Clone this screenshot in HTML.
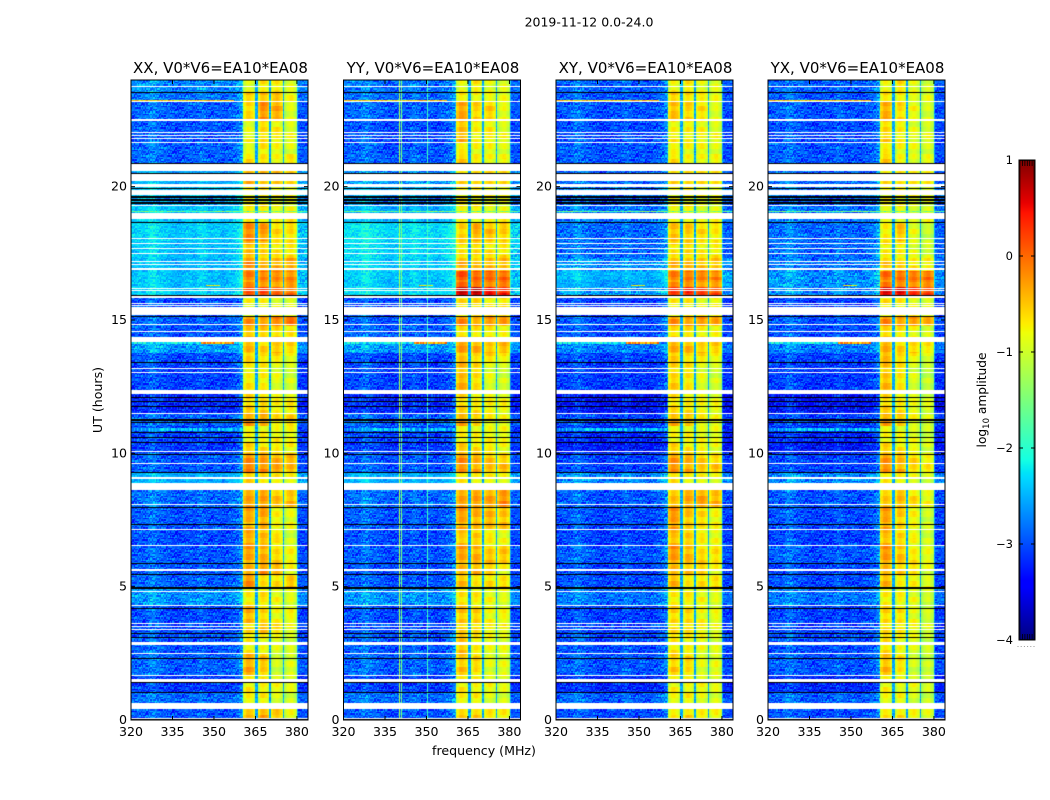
<!DOCTYPE html>
<html lang="en">
<head>
<meta charset="utf-8">
<title>2019-11-12 dynamic spectra</title>
<style>
html,body{margin:0;padding:0;background:#fff;}
#figure{position:relative;width:1050px;height:800px;overflow:hidden;background:#fff;font-family:"DejaVu Sans","Liberation Sans",sans-serif;}
canvas{position:absolute;display:block;}
svg{position:absolute;left:0;top:0;}
text{font-family:"DejaVu Sans","Liberation Sans",sans-serif;fill:#000;}
</style>
</head>
<body>
<div id="figure">
<svg id="overlay" width="1050" height="800" viewBox="0 0 1050 800">
<text x="589" y="26.5" font-size="12.5" text-anchor="middle">2019-11-12 0.0-24.0</text>
<text x="484" y="755" font-size="12.6" text-anchor="middle">frequency (MHz)</text>
<text transform="translate(102,400) rotate(-90)" font-size="12.6" text-anchor="middle">UT (hours)</text>
<text transform="translate(986,400) rotate(-90)" font-size="12.2" text-anchor="middle">log<tspan font-size="8.5" dy="3">10</tspan><tspan dy="-3"> amplitude</tspan></text>
</svg>
</div>
<script>
// ---------- axis categories and ticks ----------
var panelTitles = ["XX, V0*V6=EA10*EA08","YY, V0*V6=EA10*EA08","XY, V0*V6=EA10*EA08","YX, V0*V6=EA10*EA08"];
var freqTicks = [320,335,350,365,380];
var utTicks = [0,5,10,15,20];
var cbTicks = [-4,-3,-2,-1,0,1];
var cbTickLabels = ["\u22124","\u22123","\u22122","\u22121","0","1"];
// sub-band limits in MHz
var subbandStart = [360.4,365.9,370.6,375.7];
var subbandEnd = [364.9,369.8,374.9,380.0];
var gapLevel = -2.55;
var lowBandShift = -0.17;
var bandShift = 0.05;
// UT edges of the time segments (top to bottom)
var utEdges = [24,23.54,23.17,22.53,21.67,21.22,20.87,20.51,20.09,19.64,19.27,18.63,17.96,17.32,16.83,16.50,16.24,15.82,15.15,14.78,14.21,13.76,13.39,12.38,11.52,11.03,10.47,10.02,9.64,9.27,8.63,7.96,7.17,6.57,5.86,5.45,4.96,4.33,3.65,3.24,2.53,1.70,1.03,0.43,0];
// log10 amplitude per segment: [low-band, sub-band 1, 2, 3, 4]
var levelsXX = [[-2.6,-1,-.85,-.8,-.95],[-2.7,-.7,-.55,-.6,-.95],[-2.8,-.75,-.35,-.5,-1],[-2.85,-.95,-.75,-.85,-1],[-2.8,-1,-.8,-.95,-1],[-2.8,-.75,-.75,-.9,-.85],[-2.45,-.5,-.5,-.6,-.75],[-2.4,-.4,-.5,-.6,-.75],[-2.3,-.9,-.8,-.9,-.9],[-2.5,-.9,-.9,-1,-1],[-2.3,-.75,-.8,-.85,-.85],[-2.25,-.3,-.4,-.75,-.75],[-2.3,-.55,-.7,-.8,-.8],[-2.35,-.35,-.55,-.5,-.5],[-2.3,-.2,-.2,-.3,-.3],[-2.3,-.35,-.35,-.4,-.4],[-2.25,.05,.05,-.1,-.15],[-2.9,-.95,-.85,-.95,-1],[-2.8,-.35,-.4,-.3,-.2],[-2.85,-.6,-.7,-.7,-.75],[-2.5,-.55,-.7,-.6,-.75],[-2.9,-.7,-.75,-.8,-.9],[-2.95,-.85,-.85,-1,-1.1],[-3.1,-.7,-.7,-.85,-.85],[-2.8,-.45,-.5,-.75,-.7],[-2.95,-.9,-.9,-.9,-.9],[-3,-.75,-.8,-.85,-.85],[-2.85,-.35,-.4,-.5,-.5],[-2.85,-.25,-.3,-.4,-.6],[-2.4,-.65,-.75,-.85,-.85],[-2.75,-.4,-.4,-.6,-.6],[-2.85,-.5,-.45,-.9,-.95],[-2.9,-.5,-.6,-.8,-1.1],[-2.85,-.45,-.5,-.7,-.85],[-2.85,-.55,-.4,-.55,-.9],[-2.8,-.35,-.75,-.75,-.6],[-2.55,-.85,-.8,-.95,-1],[-2.9,-.5,-.75,-.9,-.9],[-2.9,-.8,-.55,-.7,-1],[-2.85,-.85,-.9,-1,-1.1],[-2.8,-.5,-.65,-1.1,-1.05],[-3,-.85,-.85,-.95,-1],[-2.75,-.85,-.9,-1,-1.05],[-2.85,-.6,-.45,-.6,-1]];
var levelsYY = [[-2.7,-.95,-.85,-.95,-.95],[-2.75,-.85,-.85,-.95,-1],[-2.8,-.45,-.7,-.7,-.95],[-2.9,-.55,-.85,-.85,-1],[-2.85,-.85,-.9,-.95,-1],[-2.8,-.65,-.8,-.9,-.95],[-2.6,-.75,-.7,-.75,-.8],[-2.5,-.6,-.6,-.7,-.75],[-2.4,-.9,-.85,-.9,-.9],[-2.6,-.9,-.9,-1,-1],[-2.4,-.8,-.85,-.9,-.9],[-2.15,-.7,-.5,-.6,-.65],[-2.2,-.75,-.75,-.8,-.8],[-2.25,-.55,-.6,-.55,-.6],[-2.25,.05,-.05,-.1,-.1],[-2.3,-.15,-.15,-.25,-.25],[-2.2,.6,.55,.35,.3],[-2.9,-.8,-.7,-.8,-.8],[-2.85,-.3,-.45,-.4,-.4],[-2.8,-.75,-.85,-.8,-.85],[-2.5,-.4,-.5,-.6,-.6],[-2.95,-.6,-.7,-.75,-.8],[-2.95,-.55,-.75,-1,-1.1],[-3.1,-.7,-.8,-.85,-.9],[-2.8,-.5,-.7,-.85,-.95],[-2.95,-.85,-.9,-.9,-.9],[-3,-.7,-.8,-.85,-.9],[-2.85,-.35,-.5,-.6,-.65],[-2.85,-.35,-.45,-.55,-.6],[-2.4,-.8,-.85,-.9,-.9],[-2.75,-.4,-.4,-.45,-.35],[-2.85,-.45,-.5,-.55,-.6],[-2.9,-.65,-.7,-.85,-.95],[-2.85,-.45,-.5,-.6,-.6],[-2.9,-.6,-.55,-.7,-.9],[-2.85,-.6,-.8,-.75,-.75],[-2.55,-.8,-.85,-.95,-1],[-2.9,-.6,-.7,-.9,-.9],[-2.9,-.75,-.75,-.85,-.95],[-2.85,-.6,-.8,-.95,-1],[-2.8,-.65,-.75,-1,-1],[-3,-.85,-.85,-.95,-1],[-2.75,-.85,-.9,-1,-1],[-2.85,-.7,-.65,-.75,-.9]];
var levelsXY = [[-2.8,-.9,-.85,-.95,-.95],[-2.85,-.7,-.7,-.85,-1],[-2.85,-.6,-.7,-.8,-1],[-2.9,-.85,-.85,-.9,-1],[-2.85,-.9,-.9,-.95,-1],[-2.85,-.75,-.85,-.9,-.95],[-2.8,-.7,-.7,-.8,-.85],[-2.75,-.6,-.6,-.7,-.8],[-2.7,-.95,-.9,-.95,-.95],[-2.8,-.95,-.95,-1,-1],[-2.7,-.85,-.85,-.95,-.95],[-2.75,-.6,-.65,-.75,-.8],[-2.75,-.75,-.75,-.85,-.85],[-2.55,-.55,-.55,-.6,-.65],[-2.35,-.2,-.15,-.25,-.25],[-2.45,-.35,-.3,-.4,-.45],[-2.5,.2,.2,.1,.05],[-3,-.9,-.8,-.9,-.9],[-2.85,-.35,-.4,-.4,-.45],[-2.9,-.75,-.8,-.85,-.85],[-2.65,-.5,-.55,-.65,-.7],[-2.95,-.65,-.75,-.8,-.85],[-3,-.7,-.8,-1,-1.1],[-3.25,-.75,-.8,-.9,-.95],[-2.95,-.55,-.65,-.85,-.95],[-3.1,-.9,-.9,-.95,-.95],[-3.2,-.75,-.85,-.9,-.95],[-2.95,-.4,-.5,-.65,-.7],[-2.95,-.35,-.45,-.6,-.65],[-2.6,-.75,-.85,-.95,-.95],[-2.85,-.55,-.45,-.45,-.55],[-2.9,-.4,-.6,-.75,-.9],[-2.95,-.6,-.7,-.85,-.95],[-2.85,-.4,-.55,-.7,-.75],[-2.95,-.6,-.65,-.7,-.9],[-2.9,-.55,-.8,-.75,-.75],[-2.7,-.85,-.85,-.95,-1],[-2.95,-.7,-.75,-.9,-.95],[-2.95,-.8,-.75,-.85,-1],[-2.9,-.8,-.85,-.95,-1.05],[-2.85,-.7,-.75,-1,-1],[-3.1,-.9,-.9,-.95,-1],[-2.8,-.9,-.9,-.95,-1],[-2.9,-.85,-.7,-.8,-.95]];
var levelsYX = [[-2.8,-.9,-.8,-.95,-1.05],[-2.85,-.8,-.8,-1,-1.05],[-2.85,-.5,-.75,-.95,-1.05],[-2.9,-.7,-.85,-1,-1.05],[-2.85,-.85,-.9,-1,-1.05],[-2.85,-.65,-.85,-1,-1],[-2.8,-.8,-.75,-.9,-.95],[-2.75,-.65,-.65,-.75,-.85],[-2.7,-.95,-.9,-.95,-1],[-2.8,-.95,-.95,-1,-1],[-2.7,-.9,-.9,-1,-1],[-2.75,-.85,-.6,-1,-1.15],[-2.75,-.8,-.85,-1,-1.1],[-2.7,-.65,-.7,-.8,-.9],[-2.55,-.1,-.1,-.2,-.15],[-2.55,-.25,-.25,-.3,-.35],[-2.6,.5,.4,.2,.1],[-3,-.85,-.8,-.9,-1],[-2.85,-.3,-.4,-.4,-.5],[-2.9,-.7,-.85,-.9,-1],[-2.65,-.5,-.7,-.7,-.85],[-2.95,-.55,-.7,-.9,-1],[-3,-.6,-.8,-1.05,-1.2],[-3.25,-.7,-.8,-.95,-1.05],[-2.95,-.5,-.65,-.9,-1.05],[-3.1,-.9,-.95,-1,-1.1],[-3.2,-.75,-.85,-.95,-1.05],[-2.95,-.4,-.55,-.7,-.85],[-2.95,-.35,-.5,-.7,-.85],[-2.6,-.8,-.85,-1,-1.05],[-2.85,-.6,-.55,-.75,-.95],[-2.9,-.45,-.65,-.9,-1.1],[-2.95,-.6,-.75,-.9,-1.1],[-2.85,-.4,-.6,-.8,-.95],[-2.95,-.6,-.7,-.8,-1],[-2.9,-.55,-.85,-.85,-1],[-2.7,-.85,-.9,-1,-1.1],[-2.95,-.7,-.8,-.95,-1.1],[-2.95,-.8,-.8,-.9,-1.1],[-2.9,-.75,-.9,-1,-1.15],[-2.85,-.6,-.8,-1.1,-1.15],[-3.1,-.9,-.95,-1,-1.1],[-2.8,-.9,-.95,-1.05,-1.1],[-2.9,-.8,-.75,-.85,-1.05]];
// per-MHz offset of the low band, 320..360 MHz
var channelOffset = [.05,.05,.1,.1,.05,.1,.2,.25,.25,.15,.1,.1,.05,.05,0,0,-.05,-.05,0,0,.05,.05,0,0,.1,.15,.1,.05,0,0,.05,.05,0,-.05,0,.05,.05,.1,.15,.3,.5];
// shape across a sub-band and hand-typed horizontal striping inside the sub-bands
var bandShape = [-.22,-.08,.02,.08,.12,.12,.08,.02,-.08,-.22];
var rowStripes = [.07,-.05,.12,-.09,.03,.11,-.12,.06,-.03,.15,-.07,.01,.09,-.11,.05,-.01,.13,-.06,.02,-.13,.08,.04,-.08];
// hand-typed small amplitude residuals that give the cells their grain
var residuals = [.12,-.21,.05,.31,-.08,-.27,.18,-.03,.24,-.16,.09,-.34,.28,.02,-.12,.2,-.24,.07,.33,-.18,-.05,.15,-.29,.11,.26,-.1,.01,-.22,.3,.06,-.15,.22,-.31,.13,-.02,.27,-.19,.04,.17,-.26,.09,.35,-.13,-.07,.23,-.3,.1,.19,-.2,.03,.29,-.11,-.25,.14,.06,-.17,.32,-.04,-.28,.21,.08,-.14,.25,-.23,.0,.16,-.33,.12,.27,-.09,-.19,.05,.3,-.16,.1,-.26,.2,-.01,.13,-.21,.34,-.06,-.12,.24,-.3,.07,.18,-.24,.02,.28,-.1,-.17,.15,.04,-.27,.22,-.08,.11,-.2,.26,-.03];
// fully flagged rows, [UT from, UT to]
var whiteRows = [[23.76,23.72],[23.2,23.17],[22.53,22.45],[22.04,22.0],[21.93,21.89],[21.82,21.78],[21.66,21.63],[20.84,20.58],[20.49,20.22],[20.09,19.98],[19.89,19.68],[19.31,19.27],[19.0,18.78],[18.07,18.03],[17.88,17.85],[17.71,17.68],[17.51,17.47],[17.21,17.17],[17.1,17.06],[16.95,16.87],[16.2,16.16],[16.12,16.09],[15.9,15.82],[15.64,15.6],[15.57,15.53],[15.49,15.19],[14.85,14.81],[14.59,14.55],[14.36,14.18],[13.2,13.16],[13.05,13.02],[12.38,12.23],[11.52,11.48],[10.09,10.06],[9.64,9.61],[9.12,9.08],[9.06,9.03],[8.9,8.63],[8.11,8.07],[7.17,7.13],[6.57,6.53],[5.67,5.6],[4.85,4.81],[4.33,4.29],[3.65,3.61],[3.54,3.5],[3.43,3.39],[2.94,2.9],[2.87,2.83],[2.53,2.49],[1.7,1.67],[1.55,1.44],[.62,.43],[.06,.02]];
var blackRows = [[23.54,23.5],[20.87,20.84],[20.53,20.49],[19.96,19.91],[19.64,19.57],[19.53,19.46],[19.42,19.34],[18.67,18.63],[15.93,15.9],[15.15,15.11],[13.43,13.37],[12.12,12.08],[11.98,11.94],[11.79,11.72],[11.27,11.23],[11.16,11.12],[10.79,10.75],[10.6,10.56],[10.41,10.37],[9.99,9.95],[9.29,9.25],[7.98,7.94],[7.34,7.3],[5.88,5.84],[5.47,5.43],[4.98,4.93],[4.19,4.16],[3.26,3.22],[3.11,3.07],[2.32,2.28],[1.42,1.39],[1.05,1.01],[.02,0]];
// narrow interference rows: [UT from, UT to, level, MHz from, MHz to]
var rfiRows = [[23.24,23.2,-.55,320,357],[19.1,19.05,-1.6,320,384],[14.16,14.11,-.25,345,357],[14.16,14.11,-2.2,320,345],[16.32,16.28,-.7,347,352],[10.96,10.83,-2.5,320,360]];
// narrow interference channels: [panel index, MHz, level]
var rfiColumns = [[1,340,-1.2],[1,340.5,-1.5],[1,350,-1.9]];
var panelLevels = [levelsXX,levelsYY,levelsXY,levelsYX];

// ---------- scales ----------
var panelLeft = [131,343.5,556,768];
var panelWidth = 177, axisTop = 80, axisBottom = 720;
var fMin = 320, fMax = 384, utMax = 24;
function xScale(f){ return (f-fMin)/(fMax-fMin)*panelWidth; }
function yScale(t){ return (axisBottom-axisTop)*(1-t/utMax); }
var cbLeft = 1019, cbRight = 1035, cbTop = 160, cbBottom = 640, cbMin = -4, cbMax = 1;
function cbScale(v){ return cbBottom-(v-cbMin)/(cbMax-cbMin)*(cbBottom-cbTop); }
function ramp(t,p){ for(var i=1;i<p.length;i++){ if(t<=p[i][0]){ var a=p[i-1],b=p[i]; return a[1]+(b[1]-a[1])*(t-a[0])/(b[0]-a[0]); } } return p[p.length-1][1]; }
var jetR=[[0,0],[.35,0],[.66,1],[.89,1],[1,.5]], jetG=[[0,0],[.125,0],[.375,1],[.64,1],[.91,0],[1,0]], jetB=[[0,.5],[.11,1],[.34,1],[.65,0],[1,0]];
function jet(v){ var t=Math.max(0,Math.min(1,(v-cbMin)/(cbMax-cbMin))); return "rgb("+Math.round(255*ramp(t,jetR))+","+Math.round(255*ramp(t,jetG))+","+Math.round(255*ramp(t,jetB))+")"; }

function cellLevel(row,f,grain,rowIndex){
  if(f<subbandStart[0]){
    var contrast = row[0]>-2.5 ? 0.75 : 1.35;
    return row[0]+lowBandShift+channelOffset[Math.min(40,Math.floor(f-fMin))]+grain*contrast;
  }
  if(f>=subbandEnd[3]){
    if(f<380.6){ return row[0]+.25+grain*.5; }
    return row[0]+lowBandShift+grain*1.1;
  }
  for(var i=0;i<4;i++){
    if(f>=subbandStart[i]&&f<subbandEnd[i]){
      var pos=Math.floor((f-subbandStart[i])/(subbandEnd[i]-subbandStart[i])*bandShape.length);
      var stripe=rowStripes[(Math.floor(rowIndex/4)+i*5)%rowStripes.length];
      return row[i+1]+bandShift+bandShape[pos]+stripe+grain*.12;
    }
  }
  return gapLevel+grain*.5;
}

var figure = document.getElementById("figure");
var overlay = document.getElementById("overlay");
var NS = "http://www.w3.org/2000/svg";
function svgEl(tag,attrs){ var e=document.createElementNS(NS,tag); for(var k in attrs){ e.setAttribute(k,attrs[k]); } overlay.appendChild(e); return e; }

panelTitles.forEach(function(title,p){
  var left = panelLeft[p], levels = panelLevels[p];
  var cv = document.createElement("canvas");
  
  
  cv.width = panelWidth; cv.height = axisBottom-axisTop;
  cv.style.left = left+"px"; cv.style.top = axisTop+"px";
  figure.insertBefore(cv,overlay);
  var ctx = cv.getContext("2d");
  ctx.fillStyle="#fff"; ctx.fillRect(0,0,cv.width,cv.height);
  var df = 0.5, dt = 0.05, residualCount = residuals.length;
  for(var s=0;s<levels.length;s++){
    var t1=utEdges[s], t0=utEdges[s+1];
    var rowIndex=Math.floor(t0/dt);
    for(var t=t0;t<t1;t+=dt,rowIndex++){
      var yTop=Math.round(yScale(Math.min(t1,t+dt))), yBot=Math.round(yScale(t));
      var colIndex=0;
      for(var f=fMin;f<fMax;f+=df,colIndex++){
        var g=residuals[(colIndex*31+rowIndex*17+p*11)%residualCount];
        ctx.fillStyle=jet(cellLevel(levels[s],f+df/2,g,rowIndex));
        var xa=Math.round(xScale(f)), xb=Math.round(xScale(f+df));
        ctx.fillRect(xa,yTop,xb-xa,yBot-yTop);
      }
    }
  }
  rfiRows.forEach(function(r){
    var ya=Math.round(yScale(r[0])), yb=Math.round(yScale(r[1]));
    var colIndex=0;
    for(var f=r[3];f<r[4];f+=df,colIndex++){
      ctx.fillStyle=jet(r[2]+residuals[(colIndex*13+ya)%residualCount]*1.2);
      ctx.fillRect(Math.round(xScale(f)),ya,Math.ceil(xScale(df)-xScale(0)),Math.max(1,yb-ya));
    }
  });
  rfiColumns.forEach(function(c){
    if(c[0]!==p){ return; }
    ctx.fillStyle=jet(c[2]);
    ctx.fillRect(Math.round(xScale(c[1])),0,1,axisBottom-axisTop);
  });
  ctx.fillStyle="#fff";
  whiteRows.forEach(function(r){ var a=Math.round(yScale(r[0])),b=Math.round(yScale(r[1])); ctx.fillRect(0,a,panelWidth,Math.max(1,b-a)); });
  ctx.fillStyle="#000";
  blackRows.forEach(function(r){ var a=Math.round(yScale(r[0])),b=Math.round(yScale(r[1])); ctx.fillRect(0,a,panelWidth,Math.max(1,b-a)); });

  var frame = svgEl("rect",{x:left,y:axisTop,width:panelWidth,height:axisBottom-axisTop,fill:"none",stroke:"#000","stroke-width":1});
  
  
  var ttl = svgEl("text",{x:left+panelWidth/2+1,y:73,"font-size":15,"text-anchor":"middle"});
  
  
  ttl.textContent = title;
  freqTicks.forEach(function(v){
    var x=left+xScale(v);
    [[axisBottom-4,axisBottom],[axisTop,axisTop+4]].forEach(function(seg){
      var tk=svgEl("line",{x1:x,x2:x,y1:seg[0],y2:seg[1],stroke:"#000","stroke-width":1});
      
      
    });
    var lb=svgEl("text",{x:x,y:736,"font-size":12.6,"text-anchor":"middle"});
    
    
    lb.textContent=v;
  });
  utTicks.forEach(function(v){
    var y=axisTop+yScale(v);
    [[left,left+4],[left+panelWidth-4,left+panelWidth]].forEach(function(seg){
      var tk=svgEl("line",{x1:seg[0],x2:seg[1],y1:y,y2:y,stroke:"#000","stroke-width":1});
      
      
    });
    var lb=svgEl("text",{x:left-4,y:y+4,"font-size":12.6,"text-anchor":"end"});
    
    
    lb.textContent=v;
  });
});

// ---------- colorbar ----------
for(var y=cbTop;y<cbBottom;y++){
  var stepValue=cbMax-(y+.5-cbTop)/(cbBottom-cbTop)*(cbMax-cbMin);
  var seg=svgEl("rect",{x:cbLeft,y:y,width:cbRight-cbLeft,height:1,fill:jet(stepValue)});
  
  
}
var cbFrame=svgEl("rect",{x:cbLeft,y:cbTop,width:cbRight-cbLeft,height:cbBottom-cbTop,fill:"none",stroke:"#000","stroke-width":1});


var cbInner=svgEl("rect",{x:cbLeft+1,y:cbTop+.5,width:cbRight-cbLeft-2,height:cbBottom-cbTop-1,fill:"none",stroke:"#000","stroke-width":.6});


cbTicks.forEach(function(v,i){
  var y=cbScale(v);
  [[cbLeft,cbLeft+4],[cbRight-4,cbRight]].forEach(function(s){
    var tk=svgEl("line",{x1:s[0],x2:s[1],y1:y,y2:y,stroke:"#000","stroke-width":1});
    
    
  });
  var lb=svgEl("text",{x:cbLeft-6,y:y+4,"font-size":11.5,"text-anchor":"end"});
  
  
  lb.textContent=cbTickLabels[i];
});
var cbEndMarks=[0,1,2,3,4];
cbEndMarks.forEach(function(n){
  var x=cbLeft+3.5+n*2.4;
  var top=svgEl("line",{x1:x,x2:x,y1:cbTop,y2:cbTop+6,stroke:"#000","stroke-width":.8});
  
  
  var bot=svgEl("line",{x1:x,x2:x,y1:cbBottom-6,y2:cbBottom,stroke:"#000","stroke-width":.8});
  
  
});
var cbDots=[0,1,2,3,4,5];
cbDots.forEach(function(n){
  var d=svgEl("rect",{x:1017.5+n*3.2,y:646,width:1,height:1,fill:"#999"});
  
  
});
</script>
</body>
</html>
